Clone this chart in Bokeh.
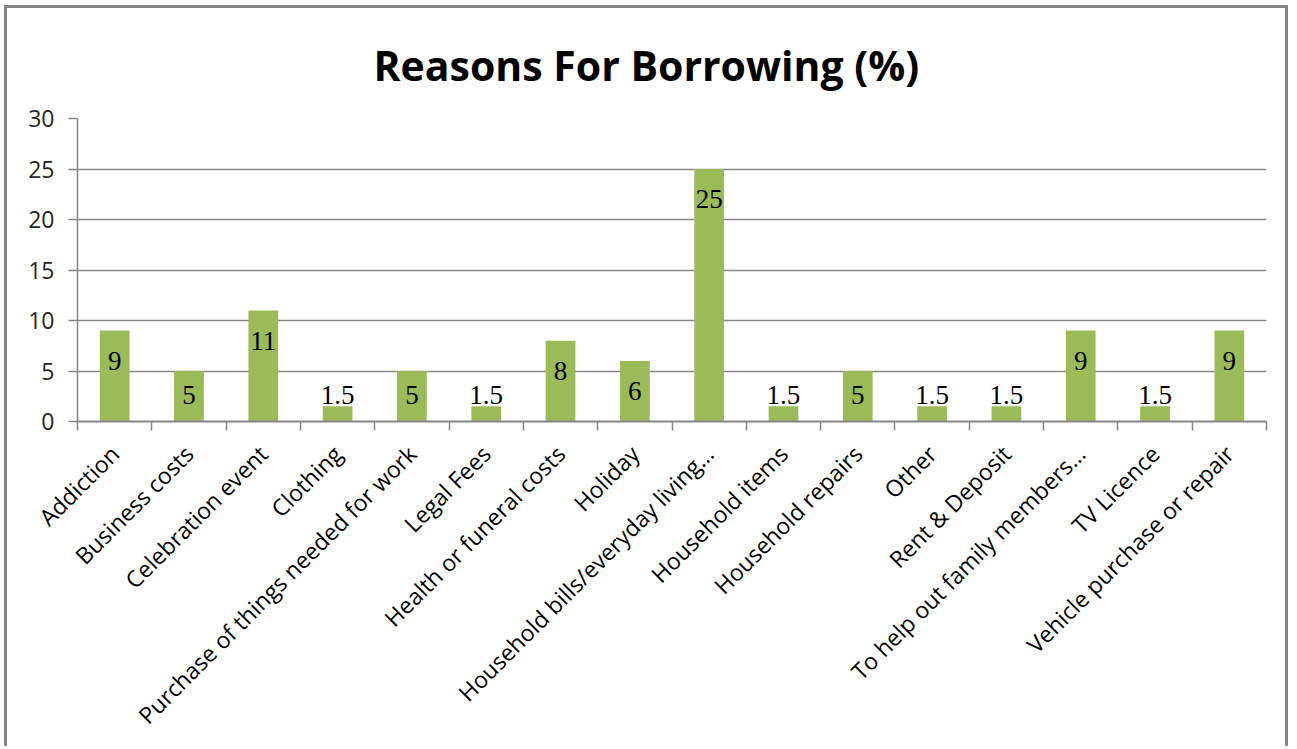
from bokeh.plotting import figure
from bokeh.models import FixedTicker, Range1d, ColumnDataSource
from bokeh.core.properties import value
from bokeh.embed import file_html
from bokeh.resources import INLINE
import math

categories = ["Addiction", "Business costs", "Celebration event", "Clothing",
              "Purchase of things needed for work", "Legal Fees",
              "Health or funeral costs", "Holiday",
              "Household bills/everyday living\u2026", "Household items",
              "Household repairs", "Other", "Rent & Deposit",
              "To help out family members\u2026", "TV Licence",
              "Vehicle purchase or repair"]
values = [9, 5, 11, 1.5, 5, 1.5, 8, 6, 25, 1.5, 5, 1.5, 1.5, 9, 1.5, 9]
value_labels = ["9", "5", "11", "1.5", "5", "1.5", "8", "6", "25", "1.5",
                "5", "1.5", "1.5", "9", "1.5", "9"]
y_ticks = [0, 5, 10, 15, 20, 25, 30]
title_text = "Reasons For Borrowing (%)"

GRAY = "#868686"
GREEN = "#9BBB59"
FONT = "Open Sans"

idx = list(range(len(categories)))
label_y = [max(v - 3.0, 2.6) for v in values]
src = ColumnDataSource(dict(x=idx, top=values, ly=label_y, lab=value_labels))

p = figure(width=1284, height=741, output_backend="svg", toolbar_location=None,
           x_range=Range1d(-0.5, len(categories) - 0.5), y_range=Range1d(0, 30),
           min_border_left=70, min_border_right=25, min_border_top=110,
           min_border_bottom=328)
p.styles = {"margin-left": "4px", "margin-top": "5px",
            "border-top": "3px solid " + GRAY, "border-left": "3px solid " + GRAY,
            "border-right": "3px solid " + GRAY}

p.title.text = title_text
p.title.align = "left"
p.title.offset = 296
p.title.standoff = 50
p.title.vertical_align = "middle"
p.title.text_font = FONT
p.title.text_font_style = "bold"
p.title.text_font_size = "41px"
p.title.text_color = "#000000"

p.vbar(x="x", top="top", width=0.4, source=src, fill_color=GREEN, line_color=None)
p.text(x="x", y="ly", text="lab", source=src, text_align="center",
       text_baseline="middle", text_font=value("Liberation Serif"),
       text_font_size="27px", text_color="#000000")

p.outline_line_color = None
p.xgrid.grid_line_color = None
p.ygrid.grid_line_color = GRAY
p.ygrid.grid_line_width = 1.5
p.ygrid.ticker = FixedTicker(ticks=y_ticks)

xa = p.xaxis[0]
xa.ticker = FixedTicker(ticks=idx, minor_ticks=[i - 0.5 for i in range(len(categories) + 1)])
xa.major_label_overrides = {i: c for i, c in zip(idx, categories)}
xa.major_label_orientation = math.pi / 4
xa.major_tick_line_color = None
xa.major_tick_out = 0
xa.major_tick_in = 0
xa.minor_tick_line_color = GRAY
xa.minor_tick_line_width = 1.5
xa.minor_tick_out = 9
xa.minor_tick_in = 0
xa.axis_line_color = GRAY
xa.axis_line_width = 2
xa.major_label_text_font = FONT
xa.major_label_text_font_size = "23px"
xa.major_label_text_color = "#000000"
xa.major_label_standoff = 19

ya = p.yaxis[0]
ya.ticker = FixedTicker(ticks=y_ticks)
ya.axis_line_color = GRAY
ya.axis_line_width = 1.5
ya.major_tick_line_color = GRAY
ya.major_tick_line_width = 1.5
ya.major_tick_out = 9
ya.major_tick_in = 0
ya.minor_tick_line_color = None
ya.major_label_text_font = FONT
ya.major_label_text_font_size = "23px"
ya.major_label_text_color = "#262626"
ya.major_label_standoff = 14

open("out.html", "w").write(file_html(p, INLINE))
